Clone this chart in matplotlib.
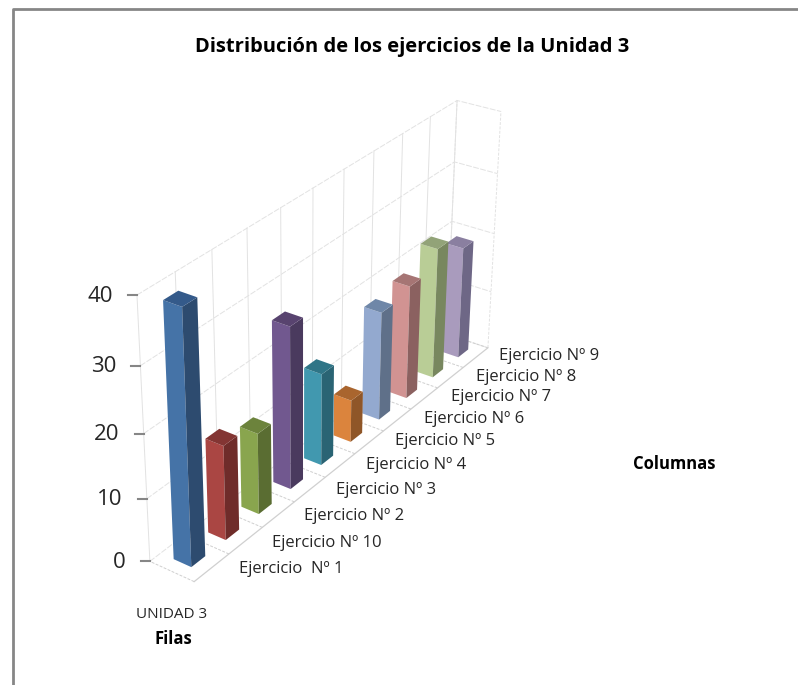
import numpy as np
import matplotlib
matplotlib.use("Agg")
import matplotlib.pyplot as plt
from matplotlib.patches import Polygon

plt.rcParams['font.family'] = ['Open Sans', 'DejaVu Sans']

# data, front to back
categories = ['Ejercicio  Nº 1', 'Ejercicio Nº 10', 'Ejercicio Nº 2', 'Ejercicio Nº 3',
              'Ejercicio Nº 4', 'Ejercicio Nº 5', 'Ejercicio Nº 6', 'Ejercicio Nº 7',
              'Ejercicio Nº 8', 'Ejercicio Nº 9']
values = [39, 15, 13, 26, 15, 7, 18, 19, 22, 19]
y_ticks = [0, 10, 20, 30, 40]
y_max = 40

front_colors = ['#4573a7', '#aa4643', '#89a54e', '#71588f', '#4198af',
                '#db843d', '#93a9cf', '#d19392', '#b9cd96', '#a99bbd']
side_colors = ['#2d4b6f', '#6f2c2a', '#5a6d32', '#4a3a5e', '#2a6474',
               '#8f5628', '#5f7089', '#8b6160', '#78875f', '#6e6786']
top_colors = ['#345a8a', '#833533', '#6c833c', '#58436f', '#2f7587',
              '#a9652e', '#6f87a8', '#a67574', '#92a378', '#8a7fa0']

W, H = 798, 685

# box corners on the page (u across, d depth, z height) -> pixel
corners = [((0, 0, 0), (150, 561)), ((1, 0, 0), (194, 582)),
           ((1, 1, 0), (488, 347)), ((0, 1, 0), (447, 335)),
           ((0, 0, 1), (137, 295)), ((0, 1, 1), (457, 100)),
           ((1, 1, 1), (501, 112))]


def fit_camera(pairs):
    rows = []
    for (u, d, z), (px, py) in pairs:
        rows.append([u, d, z, 1, 0, 0, 0, 0, -px*u, -px*d, -px*z, -px])
        rows.append([0, 0, 0, 0, u, d, z, 1, -py*u, -py*d, -py*z, -py])
    return np.linalg.svd(np.array(rows, dtype=float))[2][-1].reshape(3, 4)


cam = fit_camera(corners)


def proj(u, d, z):
    p = cam @ np.array([u, d, z, 1.0])
    return p[0]/p[2], p[1]/p[2]


fig = plt.figure(figsize=(W/100, H/100), dpi=100)
ax = fig.add_axes([0, 0, 1, 1])
ax.set_xlim(0, W)
ax.set_ylim(H, 0)
ax.axis('off')

# frame, open on the right and at the bottom
ax.plot([13, 13, W], [H, 9, 9], color='#868686', lw=2, solid_capstyle='butt')

n = len(values)
grid = dict(color='#e2e2e2', lw=0.7, zorder=1)
for t in y_ticks:
    z = t/y_max
    a, b, c = proj(0, 0, z), proj(0, 1, z), proj(1, 1, z)
    ax.plot([a[0], b[0], c[0]], [a[1], b[1], c[1]], ls=(0, (6, 1.5)), **grid)
for i in range(n+1):
    d = i/n
    a, b, c = proj(1, d, 0), proj(0, d, 0), proj(0, d, 1)
    ax.plot([b[0], c[0]], [b[1], c[1]], **grid)
    ax.plot([a[0], b[0]], [a[1], b[1]], ls=(0, (3, 1.5)), color='#cfcfcf', lw=0.7, zorder=1)
for u in [0, 1]:
    a, b = proj(u, 1, 0), proj(u, 1, 1)
    ax.plot([a[0], b[0]], [a[1], b[1]], ls=(0, (3, 1.5)), **grid)
a, b = proj(1, 0, 0), proj(1, 1, 0)
ax.plot([a[0], b[0]], [a[1], b[1]], color='#d0d0d0', lw=0.9, zorder=1)

# bars back to front
u0, u1 = 0.3, 0.7
for i in range(n-1, -1, -1):
    d0, d1 = (i+0.3)/n, (i+0.7)/n
    z = values[i]/y_max
    front = [proj(u0, d0, 0), proj(u1, d0, 0), proj(u1, d0, z), proj(u0, d0, z)]
    side = [proj(u1, d0, 0), proj(u1, d1, 0), proj(u1, d1, z), proj(u1, d0, z)]
    top = [proj(u0, d0, z), proj(u1, d0, z), proj(u1, d1, z), proj(u0, d1, z)]
    zo = 10+n-i
    ax.add_patch(Polygon(front, fc=front_colors[i], ec='none', zorder=zo))
    ax.add_patch(Polygon(side, fc=side_colors[i], ec='none', zorder=zo))
    ax.add_patch(Polygon(top, fc=top_colors[i], ec='none', zorder=zo))

# value axis
for t in y_ticks:
    px, py = proj(0, 0, t/y_max)
    ax.plot([px-9, px], [py, py], color='#868686', lw=1.5, zorder=2)
    ax.text(px-24, py+1, str(t), ha='right', va='center', fontsize=16, color='#262626')

# category labels
label_x = [239, 272, 304, 336, 366, 395, 424, 451, 476, 499]
label_y = [569, 543, 516, 490, 465, 441, 419, 397, 377, 356]
for lab, lx, ly in zip(categories, label_x, label_y):
    ax.text(lx, ly, lab, ha='left', va='center', fontsize=12, color='#262626')

ax.text(412, 47, 'Distribución de los ejercicios de la Unidad 3', ha='center', va='center',
        fontsize=14.5, fontweight='bold', color='black')
ax.text(172, 614, 'UNIDAD 3', ha='center', va='center', fontsize=11, color='#262626')
ax.text(173, 639, 'Filas', ha='center', va='center', fontsize=12, fontweight='bold', color='black')
ax.text(674, 464, 'Columnas', ha='center', va='center', fontsize=12, fontweight='bold', color='black')

fig.savefig('out.png', dpi=100)
